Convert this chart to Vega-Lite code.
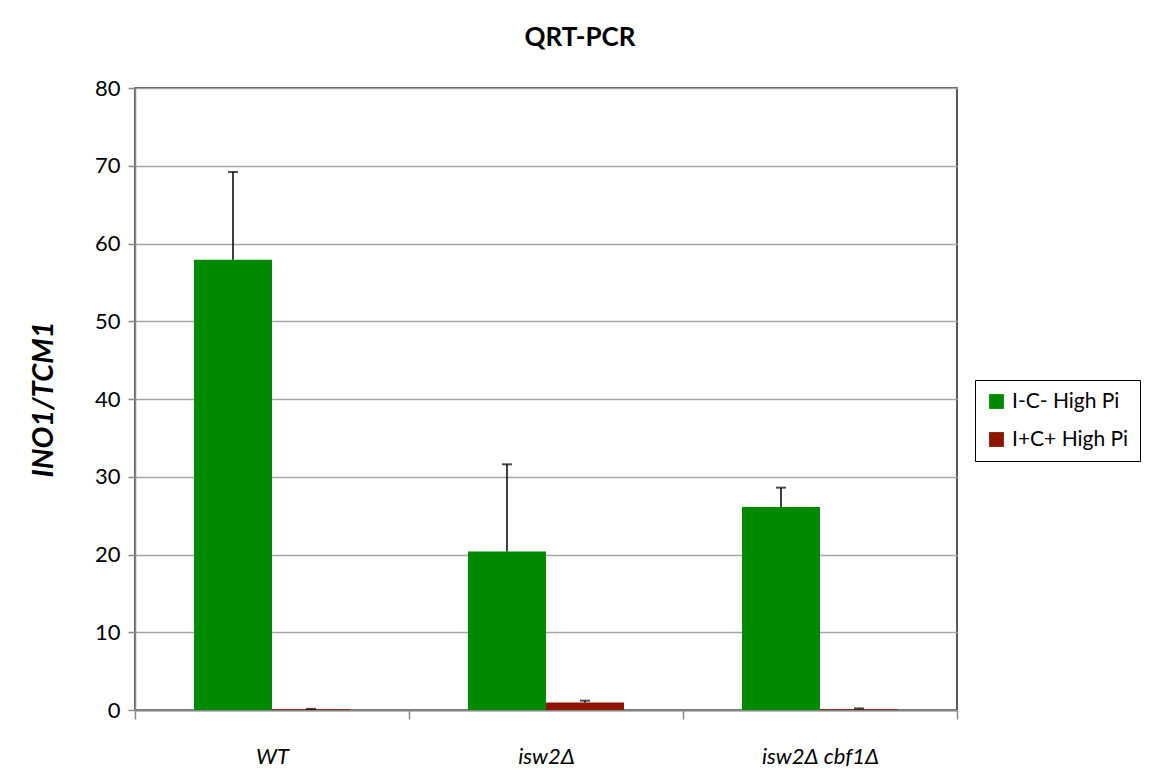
{
  "$schema": "https://vega.github.io/schema/vega-lite/v6.json",
  "autosize": {"type": "none"},
  "padding": {"left": 135, "top": 88, "right": 193, "bottom": 72},
  "width": 822,
  "height": 622,
  "background": "white",
  "title": {"text": "QRT-PCR", "font": "Lato", "fontSize": 26, "fontWeight": "bold", "color": "black", "offset": 26, "dx": 34, "anchor": "middle"},
  "config": {
    "view": {"stroke": "#222222", "strokeWidth": 1.5},
    "font": "Lato"
  },
  "data": {"values": [
    {"strain": "WT", "condition": "I-C- High Pi", "value": 57.9, "upper": 69.2},
    {"strain": "WT", "condition": "I+C+ High Pi", "value": 0.1, "upper": 0.15},
    {"strain": "isw2Δ", "condition": "I-C- High Pi", "value": 20.4, "upper": 31.6},
    {"strain": "isw2Δ", "condition": "I+C+ High Pi", "value": 0.95, "upper": 1.2},
    {"strain": "isw2Δ cbf1Δ", "condition": "I-C- High Pi", "value": 26.1, "upper": 28.6},
    {"strain": "isw2Δ cbf1Δ", "condition": "I+C+ High Pi", "value": 0.1, "upper": 0.2}
  ]},
  "encoding": {
    "x": {"field": "strain", "type": "nominal", "sort": null,
      "scale": {"paddingInner": 0, "paddingOuter": 0},
      "axis": {"title": null, "labelAngle": 0, "labelFont": "Lato", "labelFontStyle": "italic", "labelFontSize": 22, "labelColor": "black", "labelPadding": 27, "tickBand": "extent", "tickSize": 9, "tickColor": "#888888", "tickWidth": 1.5, "domainColor": "#888888", "domainWidth": 2, "grid": false}},
    "xOffset": {"field": "condition", "type": "nominal", "sort": null,
      "scale": {"paddingInner": 0, "paddingOuter": 0.756}}
  },
  "layer": [
    {
      "mark": {"type": "bar"},
      "encoding": {
        "y": {"field": "value", "type": "quantitative",
          "scale": {"domain": [0, 80], "nice": false},
          "axis": {"title": "INO1/TCM1", "titleFont": "Lato", "titleFontSize": 29, "titleFontWeight": "bold", "titleFontStyle": "italic", "titleColor": "black", "titlePadding": 36,
            "values": [0, 10, 20, 30, 40, 50, 60, 70, 80], "labelFont": "Lato", "labelFontSize": 22, "labelColor": "black", "labelPadding": 8,
            "tickSize": 7, "tickColor": "#888888", "tickWidth": 1.5, "domainColor": "#888888", "domainWidth": 1.5,
            "grid": true, "gridColor": "#A6A6A6", "gridWidth": 1.5}},
        "color": {"field": "condition", "type": "nominal", "sort": null,
          "scale": {"domain": ["I-C- High Pi", "I+C+ High Pi"], "range": ["#008A00", "#8E1500"]},
          "legend": {"title": null, "orient": "none", "legendX": 840, "legendY": 292, "symbolType": "square", "symbolSize": 220, "symbolStrokeWidth": 0,
            "labelFont": "Lato", "labelFontSize": 21, "labelColor": "black", "labelLimit": 300, "rowPadding": 16, "padding": 11,
            "strokeColor": "black", "fillColor": "white", "symbolOffset": 0, "labelOffset": 5}}
      }
    },
    {
      "mark": {"type": "rule", "color": "black", "strokeWidth": 1.5},
      "encoding": {
        "y": {"field": "value", "type": "quantitative"},
        "y2": {"field": "upper"}
      }
    },
    {
      "mark": {"type": "tick", "color": "black", "size": 10, "thickness": 2},
      "encoding": {
        "y": {"field": "upper", "type": "quantitative"}
      }
    }
  ]
}
